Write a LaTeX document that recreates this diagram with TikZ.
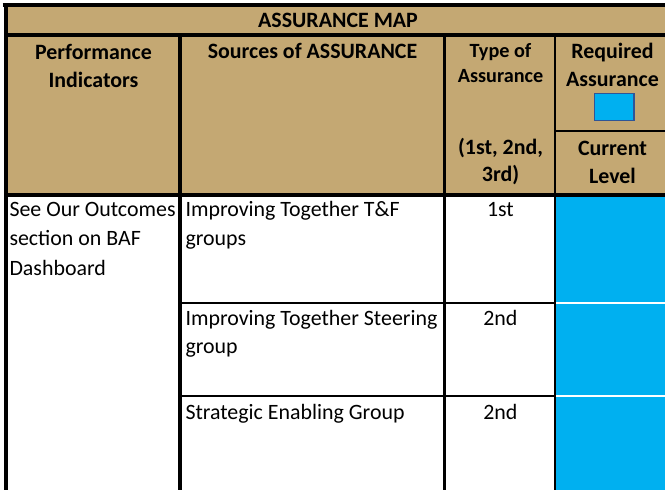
\documentclass[tikz,border=0pt]{standalone}
\usepackage{fontspec}
\setmainfont{Carlito}
\definecolor{tan}{HTML}{C4A873}
\definecolor{cellblue}{HTML}{00B0F0}
\definecolor{boxedge}{HTML}{2F5597}
\begin{document}
\begin{tikzpicture}[x=1pt,y=-1pt,
  hdr/.style={inner sep=0pt,anchor=base,font=\fontsize{21.9}{26}\selectfont\bfseries},
  hdrs/.style={inner sep=0pt,anchor=base,font=\fontsize{20.2}{24}\selectfont\bfseries},
  body/.style={inner sep=0pt,anchor=base west,font=\fontsize{21.9}{26}\selectfont},
  bodyc/.style={inner sep=0pt,anchor=base,font=\fontsize{21.9}{26}\selectfont},
  thick line/.style={line width=3.4pt},
  heavy line/.style={line width=4pt},
  thin line/.style={line width=2.3pt}]
\useasboundingbox (0,0) rectangle (665,490);
\fill[white] (0,0) rectangle (665,490);
% backgrounds
\fill[tan] (5,5) rectangle (665,194.7);
\fill[cellblue] (555,194.7) rectangle (665,490);
% blue column separators
\draw[white,line width=2pt] (555,302.7) -- (665,302.7);
\draw[white,line width=2pt] (555,395.7) -- (665,395.7);
% grid
\draw[thick line] (2.5,5) -- (665,5);
\draw[thick line] (6,3.3) -- (6,490);
\draw[heavy line] (4,35.3) -- (665,35.3);
\draw[heavy line] (4,194.7) -- (665,194.7);
\draw[thick line] (180,35.3) -- (180,490);
\draw[thin line] (444.4,35.3) -- (444.4,490);
\draw[thin line] (555,35.3) -- (555,490);
\draw[thin line] (555,131.3) -- (665,131.3);
\draw[line width=2pt] (180,302.7) -- (555,302.7);
\draw[line width=2pt] (180,395.7) -- (555,395.7);
% legend box
\draw[fill=cellblue,draw=boxedge,line width=1.3pt] (594.5,93.5) rectangle (634,120.5);
% header texts
\node[hdr] (title) at (338,27.3) {ASSURANCE MAP};
\node[hdr] (pi1) at (93.5,59.3) {Performance};
\node[hdr] (pi2) at (93.5,87.7) {Indicators};
\node[hdr] (src) at (312.5,58.3) {Sources of ASSURANCE};
\node[hdrs] (ty1) at (500.5,57.3) {Type of};
\node[hdrs] (ty2) at (500.5,82.7) {Assurance};
\node[hdr] (ty3) at (500.5,154) {(1st, 2nd,};
\node[hdr] (ty4) at (500.5,181.7) {3rd)};
\node[hdr] (rq1) at (612.5,58.3) {Required};
\node[hdr] (rq2) at (612.5,86.7) {Assurance};
\node[hdr] (cl1) at (612.5,155) {Current};
\node[hdr] (cl2) at (612.5,183.3) {Level};
% body texts
\node[body] (o1) at (9.3,216.7) {See Our Outcomes};
\node[body] (o2) at (9.3,245.7) {section on BAF};
\node[body] (o3) at (9.3,275) {Dashboard};
\node[body] (s1a) at (185.3,216.7) {Improving Together T\&F};
\node[body] (s1b) at (185.3,245.7) {groups};
\node[bodyc] (t1) at (500.4,216.7) {1st};
\node[body] (s2a) at (185.3,325) {Improving Together Steering};
\node[body] (s2b) at (185.3,353.3) {group};
\node[bodyc] (t2) at (500.4,325) {2nd};
\node[body] (s3a) at (185.3,419) {Strategic Enabling Group};
\node[bodyc] (t3) at (500.4,419) {2nd};
\end{tikzpicture}
\end{document}
